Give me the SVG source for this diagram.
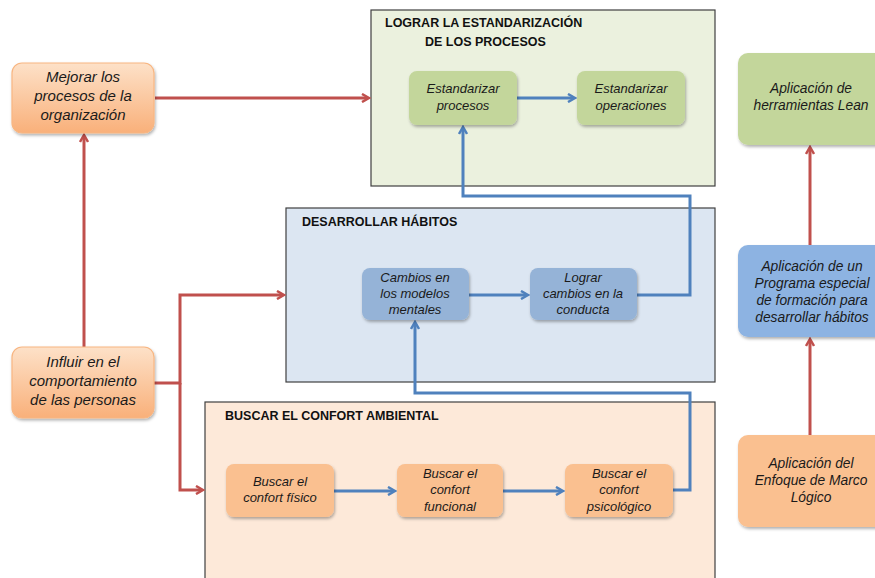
<svg xmlns="http://www.w3.org/2000/svg" width="875" height="578" viewBox="0 0 875 578">
<style>
.cont{stroke:#404040;stroke-width:1.2}
.title{font-family:"Liberation Sans",Arial,sans-serif;font-weight:bold;font-size:12.5px;fill:#111}
.t{font-family:"Liberation Sans",Arial,sans-serif;font-style:italic;font-size:13px;fill:#1a1a1a;text-anchor:middle}
.tr{font-family:"Liberation Sans",Arial,sans-serif;font-style:italic;font-size:13.8px;fill:#1a1a1a;text-anchor:middle}
.tb{font-family:"Liberation Sans",Arial,sans-serif;font-style:italic;font-size:15px;fill:#1a1a1a;text-anchor:middle}
.red{stroke:#c0504d;stroke-width:3;fill:none}
.blue{stroke:#4f81bd;stroke-width:3;fill:none}
.green{fill:#c3d69b}
.lblue{fill:#95b3d7}
.orange{fill:#fac090}
.mblue{fill:#8db3e2}
</style>
<defs>
<linearGradient id="og" x1="0" y1="0" x2="0" y2="1">
<stop offset="0" stop-color="#fde1c8"/>
<stop offset="1" stop-color="#f9b07a"/>
</linearGradient>
<filter id="sh" x="-10%" y="-10%" width="130%" height="140%">
<feDropShadow dx="1" dy="2" stdDeviation="1.5" flood-color="#000" flood-opacity="0.3"/>
</filter>
<marker id="ar" markerWidth="10" markerHeight="10" refX="7" refY="5" orient="auto" markerUnits="userSpaceOnUse" viewBox="0 0 10 10">
<path d="M1,1 L8,5 L1,9" fill="none" stroke="#c0504d" stroke-width="2.5"/>
</marker>
<marker id="ab" markerWidth="10" markerHeight="10" refX="7" refY="5" orient="auto" markerUnits="userSpaceOnUse" viewBox="0 0 10 10">
<path d="M1,1 L8,5 L1,9" fill="none" stroke="#4f81bd" stroke-width="2.5"/>
</marker>
</defs>
<rect width="875" height="578" fill="#fff"/>

<g id="cont-logrando">
<rect class="cont" x="371" y="10" width="344" height="176" fill="#ebf1de"/>
<text class="title" x="385" y="27">LOGRAR LA ESTANDARIZACIÓN</text>
<text class="title" x="425" y="46">DE LOS PROCESOS</text>
</g>
<g id="cont-habitos">
<rect class="cont" x="286" y="208" width="429" height="174" fill="#dce6f2"/>
<text class="title" x="302" y="226">DESARROLLAR HÁBITOS</text>
</g>
<g id="cont-confort">
<rect class="cont" x="205" y="402" width="510" height="185" fill="#fde9d9"/>
<text class="title" x="225" y="420">BUSCAR EL CONFORT AMBIENTAL</text>
</g>

<g id="connectors">
<path class="red" d="M155,98 H368" marker-end="url(#ar)"/>
<path class="red" d="M84,347 V136" marker-end="url(#ar)"/>
<path class="red" d="M154,383 H180 V295 H283" marker-end="url(#ar)"/>
<path class="red" d="M180,383 V490 H202" marker-end="url(#ar)"/>
<path class="red" d="M810,245 V148" marker-end="url(#ar)"/>
<path class="red" d="M810,435 V340" marker-end="url(#ar)"/>
<path class="blue" d="M517,98 H574" marker-end="url(#ab)"/>
<path class="blue" d="M469,295 H527" marker-end="url(#ab)"/>
<path class="blue" d="M637,295 H690 V196 H463 V128" marker-end="url(#ab)"/>
<path class="blue" d="M334,491 H394" marker-end="url(#ab)"/>
<path class="blue" d="M503,491 H562" marker-end="url(#ab)"/>
<path class="blue" d="M673,490 H690 V393 H415 V323" marker-end="url(#ab)"/>
</g>

<g id="mejorar">
<rect x="12" y="63" width="142" height="70" rx="10" fill="url(#og)" stroke="#f8b682" stroke-width="1.2" filter="url(#sh)"/>
<text class="tb" x="83" y="82">Mejorar los</text>
<text class="tb" x="83" y="101">procesos de la</text>
<text class="tb" x="83" y="120">organización</text>
</g>
<g id="influir">
<rect x="12" y="347" width="142" height="71" rx="10" fill="url(#og)" stroke="#f8b682" stroke-width="1.2" filter="url(#sh)"/>
<text class="tb" x="83" y="367">Influir en el</text>
<text class="tb" x="83" y="386">comportamiento</text>
<text class="tb" x="83" y="405">de las personas</text>
</g>

<g id="est-procesos">
<rect class="green" x="409" y="71" width="108" height="54" rx="8" filter="url(#sh)"/>
<text class="t" x="463" y="93">Estandarizar</text>
<text class="t" x="463" y="110">procesos</text>
</g>
<g id="est-operaciones">
<rect class="green" x="577" y="71" width="108" height="54" rx="8" filter="url(#sh)"/>
<text class="t" x="631" y="93">Estandarizar</text>
<text class="t" x="631" y="110">operaciones</text>
</g>

<g id="cambios">
<rect class="lblue" x="362" y="268" width="107" height="52" rx="8" filter="url(#sh)"/>
<text class="t" x="415" y="282">Cambios en</text>
<text class="t" x="415" y="298">los modelos</text>
<text class="t" x="415" y="314">mentales</text>
</g>
<g id="lograr">
<rect class="lblue" x="530" y="268" width="107" height="52" rx="8" filter="url(#sh)"/>
<text class="t" x="583" y="282">Lograr</text>
<text class="t" x="583" y="298">cambios en la</text>
<text class="t" x="583" y="314">conducta</text>
</g>

<g id="fisico">
<rect class="orange" x="226" y="464" width="108" height="53" rx="8" filter="url(#sh)"/>
<text class="t" x="280" y="486">Buscar el</text>
<text class="t" x="280" y="502">confort físico</text>
</g>
<g id="funcional">
<rect class="orange" x="397" y="464" width="106" height="53" rx="8" filter="url(#sh)"/>
<text class="t" x="450" y="478">Buscar el</text>
<text class="t" x="450" y="494">confort</text>
<text class="t" x="450" y="511">funcional</text>
</g>
<g id="psicologico">
<rect class="orange" x="565" y="464" width="108" height="53" rx="8" filter="url(#sh)"/>
<text class="t" x="619" y="478">Buscar el</text>
<text class="t" x="619" y="494">confort</text>
<text class="t" x="619" y="511">psicológico</text>
</g>

<g id="lean">
<rect class="green" x="738" y="53" width="150" height="92" rx="10" filter="url(#sh)"/>
<text class="tr" x="811" y="93">Aplicación de</text>
<text class="tr" x="811" y="110">herramientas Lean</text>
</g>
<g id="programa">
<rect class="mblue" x="738" y="245" width="150" height="92" rx="10" filter="url(#sh)"/>
<text class="tr" x="812" y="271">Aplicación de un</text>
<text class="tr" x="812" y="288">Programa especial</text>
<text class="tr" x="812" y="305">de formación para</text>
<text class="tr" x="812" y="322">desarrollar hábitos</text>
</g>
<g id="marco">
<rect class="orange" x="738" y="435" width="150" height="92" rx="10" filter="url(#sh)"/>
<text class="tr" x="811" y="468">Aplicación del</text>
<text class="tr" x="811" y="485">Enfoque de Marco</text>
<text class="tr" x="811" y="502">Lógico</text>
</g>
</svg>
